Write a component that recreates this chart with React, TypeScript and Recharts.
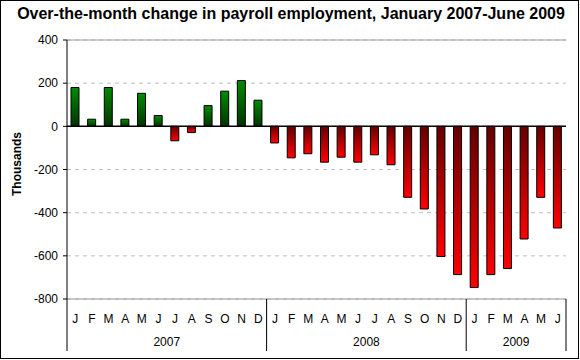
import { Bar, BarChart, CartesianGrid, Cell, ReferenceLine, XAxis, YAxis } from "recharts";

const months = [
  "J", "F", "M", "A", "M", "J", "J", "A", "S", "O", "N", "D",
  "J", "F", "M", "A", "M", "J", "J", "A", "S", "O", "N", "D",
  "J", "F", "M", "A", "M", "J"
];
const years = [
  2007, 2007, 2007, 2007, 2007, 2007, 2007, 2007, 2007, 2007, 2007, 2007,
  2008, 2008, 2008, 2008, 2008, 2008, 2008, 2008, 2008, 2008, 2008, 2008,
  2009, 2009, 2009, 2009, 2009, 2009
];
const change = [
  180, 33, 180, 33, 153, 50, -67, -29, 96, 163, 212, 121,
  -77, -146, -127, -166, -143, -166, -132, -178, -329, -383, -603, -687,
  -747, -687, -659, -522, -329, -471
];
const yTicks = [-800, -600, -400, -200, 0, 200, 400];

const data = months.map((m, i) => ({ month: m, year: years[i], value: change[i] }));

const W = 580;
const H = 360;
const LEFT = 67;
const RIGHT = 14;
const TOP = 40;
const BOTTOM = 61;
const BAND = (W - LEFT - RIGHT) / months.length;
const FONT = "'Liberation Sans', Arial, sans-serif";

function MonthTick(props: any) {
  const { x, y, payload } = props;
  const i = payload.index;
  const yr = years[i];
  const first = i === 0 || years[i - 1] !== yr;
  const last = i === years.length - 1;
  const count = years.filter((v) => v === yr).length;
  return (
    <g>
      <text x={x} y={y + 24} textAnchor="middle" fontSize={12} fontFamily={FONT} fill="#000">
        {payload.value}
      </text>
      {first && (
        <>
          <line x1={x - BAND / 2} x2={x - BAND / 2} y1={y} y2={y + 52} stroke="#000" />
          <text
            x={x - BAND / 2 + (count * BAND) / 2}
            y={y + 47}
            textAnchor="middle"
            fontSize={12}
            fontFamily={FONT}
            fill="#000"
          >
            {yr}
          </text>
        </>
      )}
      {last && <line x1={x + BAND / 2} x2={x + BAND / 2} y1={y} y2={y + 52} stroke="#000" />}
    </g>
  );
}

export default function App() {
  return (
    <div
      style={{
        position: "absolute",
        left: 0,
        top: 0,
        width: W - 1,
        height: H - 1,
        border: "1px solid #000",
        boxSizing: "border-box",
        background: "#fff",
        fontFamily: FONT
      }}
    >
      <div
        style={{
          position: "absolute",
          left: 0,
          top: 4,
          width: W,
          textAlign: "center",
          fontWeight: "bold",
          fontSize: 16
        }}
      >
        Over-the-month change in payroll employment, January 2007-June 2009
      </div>
      <div
        style={{
          position: "absolute",
          left: 16,
          top: 163,
          transform: "translate(-50%, -50%) rotate(-90deg)",
          fontWeight: "bold",
          fontSize: 12,
          whiteSpace: "nowrap"
        }}
      >
        Thousands
      </div>
      <div style={{ position: "absolute", left: -1, top: -1 }}>
        <BarChart
          width={W}
          height={H}
          data={data}
          barSize={8}
          margin={{ top: TOP, right: RIGHT, left: 0, bottom: 0 }}
        >
          <defs>
            <linearGradient id="gGreen" x1="0" y1="0" x2="0" y2="1">
              <stop offset="0%" stopColor="#008c00" />
              <stop offset="100%" stopColor="#003300" />
            </linearGradient>
            <linearGradient id="gRed" x1="0" y1="0" x2="0" y2="1">
              <stop offset="0%" stopColor="#640000" />
              <stop offset="100%" stopColor="#ff0000" />
            </linearGradient>
          </defs>
          <CartesianGrid vertical={false} stroke="#c0c0c0" strokeDasharray="4 4" />
          <XAxis
            dataKey="month"
            interval={0}
            height={BOTTOM}
            tickSize={0}
            tickMargin={0}
            tickLine={false}
            axisLine={{ stroke: "#999" }}
            tick={<MonthTick />}
          />
          <YAxis
            domain={[-800, 400]}
            ticks={yTicks}
            width={LEFT}
            tickSize={4}
            tickMargin={5}
            allowDataOverflow
            axisLine={{ stroke: "#000" }}
            tickLine={{ stroke: "#000" }}
            tick={{ fontSize: 12, fill: "#000", fontFamily: FONT }}
          />
          <YAxis
            yAxisId="right"
            orientation="right"
            width={0}
            tick={false}
            tickLine={false}
            axisLine={{ stroke: "#999" }}
          />
          <ReferenceLine y={400} stroke="#999" />
          <Bar dataKey="value" stroke="#000" strokeWidth={1} isAnimationActive={false}>
            {data.map((d, i) => (
              <Cell key={i} fill={d.value >= 0 ? "url(#gGreen)" : "url(#gRed)"} />
            ))}
          </Bar>
          <ReferenceLine y={0} stroke="#000" strokeWidth={1.5} />
        </BarChart>
      </div>
    </div>
  );
}
